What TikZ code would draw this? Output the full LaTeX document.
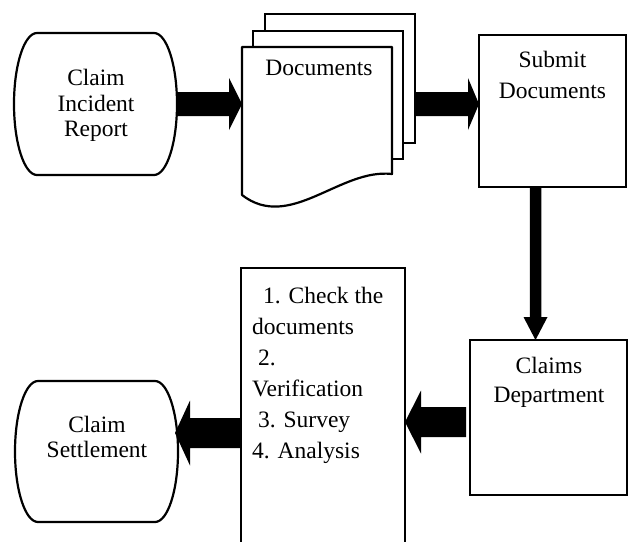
\documentclass[tikz,border=0pt]{standalone}
\usepackage{fontspec}
\setmainfont{Liberation Serif}
\usetikzlibrary{calc}
\begin{document}
\begin{tikzpicture}[x=1pt,y=1pt,
  outline/.style={draw=black, line width=2.2pt, fill=white, line join=round},
  box/.style 2 args={draw=black, line width=2.2pt, fill=white, minimum width=#1, minimum height=#2, inner sep=0pt, outer sep=0pt},
  term/.style 2 args={minimum width=#1, minimum height=#2, inner sep=0pt, outer sep=0pt},
  txt/.style={inner sep=0pt, align=center, font=\fontsize{23.5pt}{#1pt}\selectfont},
  rblock/.style n args={3}{to path={($(\tikztostart)+(0,#1)$) -- ($(\tikztotarget)+(-#2,#1)$) -- ($(\tikztotarget)+(-#2,#3)$) -- (\tikztotarget) -- ($(\tikztotarget)+(-#2,-#3)$) -- ($(\tikztotarget)+(-#2,-#1)$) -- ($(\tikztostart)+(0,-#1)$) -- cycle}},
  lblock/.style n args={3}{to path={($(\tikztostart)+(0,#1)$) -- ($(\tikztotarget)+(#2,#1)$) -- ($(\tikztotarget)+(#2,#3)$) -- (\tikztotarget) -- ($(\tikztotarget)+(#2,-#3)$) -- ($(\tikztotarget)+(#2,-#1)$) -- ($(\tikztostart)+(0,-#1)$) -- cycle}},
  dblock/.style n args={3}{to path={($(\tikztostart)+(-#1,0)$) -- ($(\tikztotarget)+(-#1,#2)$) -- ($(\tikztotarget)+(-#3,#2)$) -- (\tikztotarget) -- ($(\tikztotarget)+(#3,#2)$) -- ($(\tikztotarget)+(#1,#2)$) -- ($(\tikztostart)+(#1,0)$) -- cycle}},
]
\path[use as bounding box, clip] (0,0) rectangle (631,-541);

% Claim Incident Report (terminator)
\node[term={163}{142}] (cir) at (95.5,-104) {};
\draw[outline] ([xshift=-58.5]cir.north) -- ([xshift=58.5]cir.north)
  arc[start angle=90, end angle=-90, x radius=23pt, y radius=71pt]
  -- ([xshift=-58.5]cir.south)
  arc[start angle=270, end angle=90, x radius=23pt, y radius=71pt] -- cycle;

% Claim Settlement (terminator)
\node[term={163}{141}] (settle) at (96.5,-451.5) {};
\draw[outline] ([xshift=-58.5]settle.north) -- ([xshift=58.5]settle.north)
  arc[start angle=90, end angle=-90, x radius=23pt, y radius=70.5pt]
  -- ([xshift=-58.5]settle.south)
  arc[start angle=270, end angle=90, x radius=23pt, y radius=70.5pt] -- cycle;

% Documents stack
\node[box={150}{129}] (back) at (340,-78.5) {};
\node[box={150}{128}] (mid) at (328,-95) {};
\node[term={150}{148}] (doc) at (317,-121) {};
\draw[outline] (doc.north west) -- (doc.north east) -- ([yshift=21]doc.south east)
  .. controls ([shift={(-52,27)}]doc.south east) and ([shift={(48,-37)}]doc.south west) .. (doc.south west) -- cycle;

% Boxes
\node[box={147}{152}] (submit) at (552.5,-111) {};
\node[box={157}{155}] (claims) at (548.5,-417.5) {};
\node[box={164}{300}] (check) at (323,-418) {};

% Block arrows
\coordinate (t1) at (cir.east -| doc.west);
\fill (cir.east) to[rblock={12}{13}{26}] (t1);

\coordinate (s2) at (back.east |- t1);
\coordinate (t2) at (submit.west |- t1);
\fill (s2) to[rblock={12}{11}{26}] (t2);

\coordinate (s3) at ([xshift=-17]submit.south);
\coordinate (t3) at (s3 |- claims.north);
\fill (s3) to[dblock={5.75}{23}{12}] (t3);

\coordinate (s4) at ([shift={(-4,-4.5)}]claims.west);
\coordinate (t4) at (check.east |- s4);
\fill (s4) to[lblock={15}{16}{31.5}] (t4);

\coordinate (t5) at ([shift={(-3,18.5)}]settle.east);
\coordinate (s5) at (check.west |- t5);
\fill (s5) to[lblock={15}{15}{32.5}] (t5);

% Texts
\node[txt=25.5, anchor=north] (cirtxt) at (96,-69) {Claim\\Incident\\Report};
\node[txt=25, anchor=north] (settletxt) at (97,-416) {Claim\\Settlement};
\node[txt=26, anchor=north] (doctxt) at (319,-60) {Documents};
\node[txt=31, anchor=north] (subtxt) at (552.5,-51) {Submit\\Documents};
\node[txt=29, anchor=north] (clmtxt) at (549,-357) {Claims\\Department};
\node[txt=31, anchor=north west, align=left] (chktxt) at (252,-287)
  {\hspace*{11pt}1. Check the\\documents\\\hspace*{6pt}2.\\Verification\\\hspace*{6pt}3. Survey\\4. Analysis};
\end{tikzpicture}
\end{document}
